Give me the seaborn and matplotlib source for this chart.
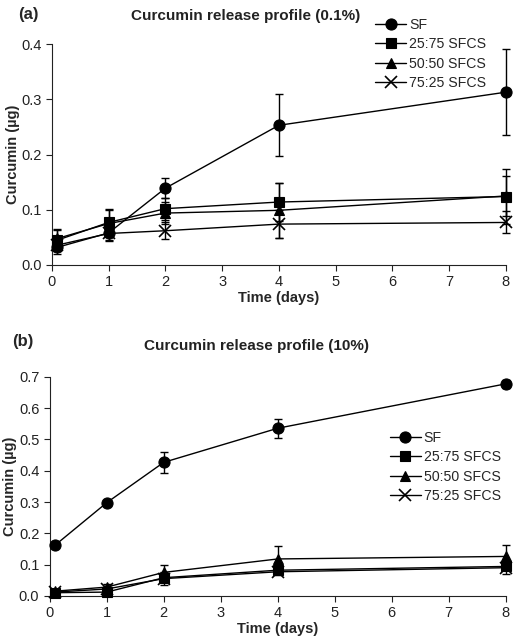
import matplotlib
matplotlib.use('Agg')
from matplotlib import pyplot as plt
import seaborn as sns
import pandas as pd

sns.set_style('ticks')
plt.rcParams['font.family'] = ['Liberation Sans', 'DejaVu Sans']

days = [0.1, 1, 2, 4, 8]
labels = ['SF', '25:75 SFCS', '50:50 SFCS', '75:25 SFCS']
markers = ['o', 's', '^', 'x']
msizes = [8, 7, 7.5, 8]

# panel (a) 0.1%
a_sf = [0.032, 0.058, 0.139, 0.253, 0.313]
a_sf_err = [0.012, 0.015, 0.018, 0.056, 0.078]
a_2575 = [0.045, 0.077, 0.102, 0.114, 0.124]
a_2575_err = [0.02, 0.025, 0.02, 0.035, 0.05]
a_5050 = [0.048, 0.075, 0.094, 0.099, 0.125]
a_5050_err = [0.015, 0.025, 0.02, 0.05, 0.037]
a_7525 = [0.036, 0.057, 0.062, 0.074, 0.077]
a_7525_err = [0.01, 0.012, 0.015, 0.025, 0.02]

# panel (b) 10%
b_sf = [0.163, 0.298, 0.427, 0.536, 0.678]
b_sf_err = [0.005, 0.005, 0.033, 0.031, 0.012]
b_2575 = [0.01, 0.012, 0.058, 0.082, 0.094]
b_2575_err = [0.005, 0.005, 0.01, 0.01, 0.01]
b_5050 = [0.015, 0.028, 0.075, 0.118, 0.126]
b_5050_err = [0.005, 0.01, 0.023, 0.04, 0.037]
b_7525 = [0.012, 0.022, 0.055, 0.077, 0.09]
b_7525_err = [0.005, 0.01, 0.02, 0.01, 0.02]

fig = plt.figure(figsize=(5.13, 6.4), dpi=100)
ax1 = fig.add_axes([0.101, 0.586, 0.885, 0.345])
ax2 = fig.add_axes([0.097, 0.069, 0.889, 0.342])


def panel(ax, series, errs, ymax, yticks):
    for y, e, lab, m, ms in zip(series, errs, labels, markers, msizes):
        df = pd.DataFrame({'day': days, 'val': y})
        sns.lineplot(data=df, x='day', y='val', ax=ax, color='black', lw=1,
                     marker=m, markersize=ms, markeredgecolor='black',
                     markeredgewidth=1.2 if m == 'x' else 0.8,
                     label=lab, clip_on=False, zorder=3)
        ax.errorbar(days, y, yerr=e, fmt='none', ecolor='black', elinewidth=1,
                    capsize=3, capthick=1, clip_on=False, zorder=2)
    ax.set_xlim(0, 8)
    ax.set_ylim(0, ymax)
    ax.set_xticks(range(9))
    ax.set_yticks(yticks)
    ax.set_yticklabels(['%.1f' % t for t in yticks])
    ax.tick_params(labelsize=10.5, length=4, width=0.8, colors='#222222')
    sns.despine(ax=ax)
    for s in ['left', 'bottom']:
        ax.spines[s].set_linewidth(0.8)
        ax.spines[s].set_color('#222222')
    ax.set_xlabel('Time (days)', fontsize=10.5, fontweight='bold', labelpad=1)
    ax.set_ylabel('Curcumin (\u00b5g)', fontsize=10.5, fontweight='bold', labelpad=1)


panel(ax1, [a_sf, a_2575, a_5050, a_7525],
      [a_sf_err, a_2575_err, a_5050_err, a_7525_err],
      0.4, [0.0, 0.1, 0.2, 0.3, 0.4])
panel(ax2, [b_sf, b_2575, b_5050, b_7525],
      [b_sf_err, b_2575_err, b_5050_err, b_7525_err],
      0.7, [0.0, 0.1, 0.2, 0.3, 0.4, 0.5, 0.6, 0.7])

ax1.legend(loc='upper left', bbox_to_anchor=(0.70, 1.145), frameon=False,
           fontsize=10.2, handlelength=2.2, handletextpad=0.2,
           labelspacing=0.38, borderaxespad=0)
ax2.legend(loc='upper left', bbox_to_anchor=(0.733, 0.78), frameon=False,
           fontsize=10.2, handlelength=2.2, handletextpad=0.2,
           labelspacing=0.38, borderaxespad=0)

fig.text(0.035, 0.978, '(a)', fontsize=12, fontweight='bold', va='center')
fig.text(0.478, 0.975, 'Curcumin release profile (0.1%)', fontsize=11,
         fontweight='bold', ha='center', va='center', color='#222222')
fig.text(0.023, 0.466, '(b)', fontsize=12, fontweight='bold', va='center')
fig.text(0.50, 0.460, 'Curcumin release profile (10%)', fontsize=11,
         fontweight='bold', ha='center', va='center', color='#222222')

fig.savefig('out.png', dpi=100)
